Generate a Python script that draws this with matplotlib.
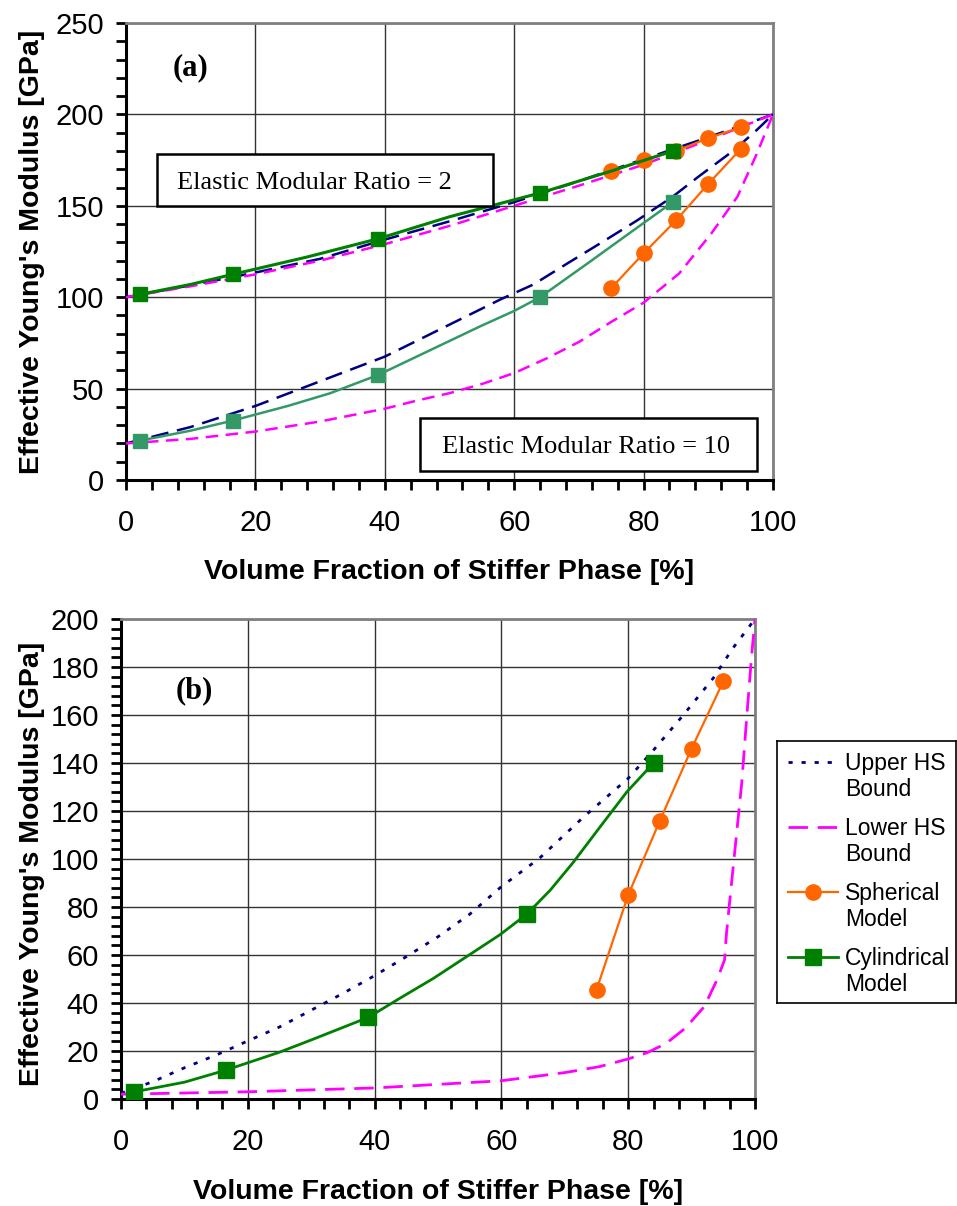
import numpy as np
import matplotlib
matplotlib.use('Agg')
import matplotlib.pyplot as plt
from matplotlib.lines import Line2D
from matplotlib.patches import Rectangle
from matplotlib.ticker import MultipleLocator

# ------------------------------------------------
# panel (a): two modular ratios (2 and 10)

# ratio 2
hs_up_r2_x = [0, 10, 20, 30, 40, 50, 60, 70, 80, 90, 100]
hs_up_r2_y = [100, 106.5, 113.5, 121, 131.5, 141.5, 152, 163.5, 175.5, 187.5, 200]
hs_lo_r2_x = [0, 10, 20, 30, 40, 50, 60, 70, 80, 90, 100]
hs_lo_r2_y = [100, 106, 112.5, 120, 129, 139, 150, 161, 172.5, 186, 200]
cyl_r2_x = [2.1, 16.5, 39, 64, 84.5]
cyl_r2_y = [101.5, 112.5, 132, 157, 180]
cyl_r2_curve_x = [2.1, 10, 16.5, 28, 39, 50, 64, 75, 84.5]
cyl_r2_curve_y = [101.5, 107, 112.5, 122, 132, 144, 157, 169, 180]
sph_r2_x = [75, 80, 85, 90, 95]
sph_r2_y = [169, 175, 180, 187, 193]

# ratio 10
hs_up_r10_x = [0, 10, 20, 30, 40, 50, 58, 63, 68, 74, 79, 84.5, 88.5, 94, 97.5, 100]
hs_up_r10_y = [20, 29, 40.5, 54, 67.5, 85, 99, 107, 118, 131, 142, 155, 166, 180.5, 191.5, 200]
hs_lo_r10_x = [0, 10, 20, 30, 40, 45, 50, 55, 60, 65, 70, 75, 80, 85.5, 90.5, 94.5, 97.5, 100]
hs_lo_r10_y = [20, 22.5, 26.5, 32, 39, 43.5, 47.5, 52.5, 58.5, 66.5, 75.5, 86.5, 97, 113, 135, 155, 178.5, 200]
cyl_r10_x = [2.1, 16.5, 39, 64, 84.5]
cyl_r10_y = [21.5, 32.5, 57.5, 100, 152]
cyl_r10_curve_x = [2.1, 10, 16.5, 25, 31.5, 39, 47, 54.7, 60, 64, 71.7, 78, 84.5]
cyl_r10_curve_y = [21.5, 27, 32.5, 40.5, 47.4, 57.5, 71, 84, 92.5, 100, 119.4, 135.5, 152]
sph_r10_x = [75, 80, 85, 90, 95]
sph_r10_y = [105, 124, 142, 162, 181]

# ------------------------------------------------
# panel (b)

hs_up_b_x = [0, 5, 10, 15, 20, 25, 30, 35, 40, 45, 50, 55, 60, 66, 73, 80, 84, 88.7, 93.4, 96.5, 100]
hs_up_b_y = [2.4, 7.2, 13, 18.3, 24.2, 30, 37, 44, 51.4, 59.3, 67.6, 77, 88.5, 100.3, 117.6, 133.6, 145.4, 160, 175.3, 187.8, 200]
hs_lo_b_x = [0, 20, 40, 60, 65, 70, 75.5, 80, 83, 86, 89, 92, 94, 95.2, 95.5, 96.3, 97.1, 97.9, 98.7, 99.5, 100]
hs_lo_b_y = [2, 3, 4.6, 7.6, 9.3, 11, 13.5, 16.7, 19.3, 23.2, 29.5, 38.5, 49.6, 58, 69, 90, 110.7, 131.5, 159.3, 185.7, 200]
cyl_b_x = [2.1, 16.5, 39, 64, 84]
cyl_b_y = [3, 12, 34, 77, 140]
cyl_b_curve_x = [2.1, 10, 16.5, 25, 30, 39, 44, 49.3, 54.5, 59.8, 64, 67.7, 71.3, 75.6, 79.8, 84]
cyl_b_curve_y = [3, 7, 12, 19.5, 24.6, 34, 42, 50.3, 59.3, 68.5, 77, 87, 98.5, 113.5, 128, 140]
sph_b_x = [75, 80, 85, 90, 95]
sph_b_y = [45.5, 85, 116, 146, 174]

legend_labels = ['Upper HS\nBound', 'Lower HS\nBound', 'Spherical\nModel', 'Cylindrical\nModel']

NAVY, MAGENTA, ORANGE, GREEN, SEAGREEN = '#000080', '#FF00FF', '#FF6600', '#008000', '#339966'
SANS = 'Liberation Sans'
SERIF = 'Liberation Serif'

plt.rcParams['font.family'] = SANS

# ------------------------------------------------

def style_axes(ax, xmax, ymax, ymaj, ymin):
    ax.set_xlim(0, xmax)
    ax.set_ylim(0, ymax)
    ax.xaxis.set_major_locator(MultipleLocator(20))
    ax.xaxis.set_minor_locator(MultipleLocator(4))
    ax.yaxis.set_major_locator(MultipleLocator(ymaj))
    ax.yaxis.set_minor_locator(MultipleLocator(ymin))
    ax.grid(which='major', color='#333333', linewidth=1.0)
    ax.set_axisbelow(True)
    for s in ['top', 'right']:
        ax.spines[s].set_color('#808080')
        ax.spines[s].set_linewidth(2.0)
    for s in ['left', 'bottom']:
        ax.spines[s].set_color('black')
        ax.spines[s].set_linewidth(2.2)
    ax.tick_params(which='both', direction='out', width=2.0, length=7, labelsize=21, color='black')
    ax.tick_params(axis='x', which='both', pad=14)
    ax.tick_params(axis='y', which='both', pad=9)
    ax.set_xlabel('Volume Fraction of Stiffer Phase [%]', fontsize=20.5, fontweight='bold')
    ax.set_ylabel("Effective Young's Modulus [GPa]", fontsize=20.5, fontweight='bold')


fig = plt.figure(figsize=(9.57, 12.06), dpi=100)

# ---- panel (a)
ax = fig.add_axes([126/957, 1-480/1206, 647/957, 457/1206])
style_axes(ax, 100, 250, 50, 10)

ax.plot(hs_up_r2_x, hs_up_r2_y, color=NAVY, lw=1.8, dashes=(7, 3.5), zorder=3)
ax.plot(hs_lo_r2_x, hs_lo_r2_y, color=MAGENTA, lw=1.8, dashes=(5, 3), zorder=3)
ax.plot(hs_up_r10_x, hs_up_r10_y, color=NAVY, lw=1.8, dashes=(7, 3.5), zorder=3)
ax.plot(hs_lo_r10_x, hs_lo_r10_y, color=MAGENTA, lw=1.8, dashes=(5, 3), zorder=3)

ax.plot(sph_r2_x, sph_r2_y, color=ORANGE, lw=1.6, marker='o', ms=11, zorder=4)
ax.plot(sph_r10_x, sph_r10_y, color=ORANGE, lw=1.6, marker='o', ms=11, zorder=4)

ax.plot(cyl_r2_curve_x, cyl_r2_curve_y, color=GREEN, lw=2.2, zorder=5)
ax.plot(cyl_r2_x, cyl_r2_y, ls='none', color=GREEN, marker='s', ms=10.5, zorder=5)
ax.plot(cyl_r10_curve_x, cyl_r10_curve_y, color=SEAGREEN, lw=1.8, zorder=5)
ax.plot(cyl_r10_x, cyl_r10_y, ls='none', color=SEAGREEN, marker='s', ms=10.5, zorder=5)

ax.add_patch(Rectangle((0.0479, 0.5996), 0.519, 0.1137, transform=ax.transAxes,
                       facecolor='white', edgecolor='black', lw=1.8, zorder=6, clip_on=False))
ax.text(0.0788, 0.636, 'Elastic Modular Ratio = 2', transform=ax.transAxes,
        family=SERIF, fontsize=19, ha='left', va='baseline', zorder=7)
ax.add_patch(Rectangle((0.4544, 0.0197), 0.5209, 0.116, transform=ax.transAxes,
                       facecolor='white', edgecolor='black', lw=1.8, zorder=6, clip_on=False))
ax.text(0.488, 0.0597, 'Elastic Modular Ratio = 10', transform=ax.transAxes,
        family=SERIF, fontsize=19, ha='left', va='baseline', zorder=7)
ax.text(0.0726, 0.886, '(a)', transform=ax.transAxes, family=SERIF, fontsize=22,
        fontweight='bold', ha='left', va='baseline')

ax.yaxis.set_label_coords(-0.125, 0.5)
ax.xaxis.set_label_coords(0.5, -0.173)

# ---- panel (b)
bx = fig.add_axes([121/957, 1-1099/1206, 634/957, 480/1206])
style_axes(bx, 100, 200, 20, 4)

bx.plot(hs_up_b_x, hs_up_b_y, color=NAVY, lw=2.0, dashes=(1.5, 3.2), zorder=3)
bx.plot(hs_lo_b_x, hs_lo_b_y, color=MAGENTA, lw=2.0, dashes=(7, 3.5), zorder=3)
bx.plot(sph_b_x, sph_b_y, color=ORANGE, lw=1.6, marker='o', ms=11, zorder=4)
bx.plot(cyl_b_curve_x, cyl_b_curve_y, color=GREEN, lw=2.0, zorder=5)
bx.plot(cyl_b_x, cyl_b_y, ls='none', color=GREEN, marker='s', ms=11.5, zorder=5)

bx.text(0.0868, 0.835, '(b)', transform=bx.transAxes, family=SERIF, fontsize=22,
        fontweight='bold', ha='left', va='baseline')

bx.yaxis.set_label_coords(-0.12, 0.49)
bx.xaxis.set_label_coords(0.5, -0.167)

# ---- legend box (drawn by hand so handles sit on the first text line)
lg = fig.add_axes([777/957, 1-1003/1206, 179/957, 262/1206])
lg.set_xlim(0, 179)
lg.set_ylim(262, 0)
lg.set_xticks([])
lg.set_yticks([])
for s in lg.spines.values():
    s.set_linewidth(1.2)
    s.set_color('black')

handles = [
    dict(color=NAVY, lw=2.0, dashes=(1.5, 3.2)),
    dict(color=MAGENTA, lw=2.0, dashes=(7, 3.5)),
    dict(color=ORANGE, lw=1.6, marker='o', ms=11, markevery=[1]),
    dict(color=GREEN, lw=2.0, marker='s', ms=11.5, markevery=[1]),
]
for i, (lab, h) in enumerate(zip(legend_labels, handles)):
    yc = 21 + 65*i
    lg.add_line(Line2D([11, 36, 61], [yc, yc, yc], **h))
    first, second = lab.split('\n')
    lg.text(68, yc + 8, first, fontsize=16.5, va='baseline', ha='left')
    lg.text(68, yc + 34, second, fontsize=16.5, va='baseline', ha='left')

fig.savefig('out.png', dpi=100)
